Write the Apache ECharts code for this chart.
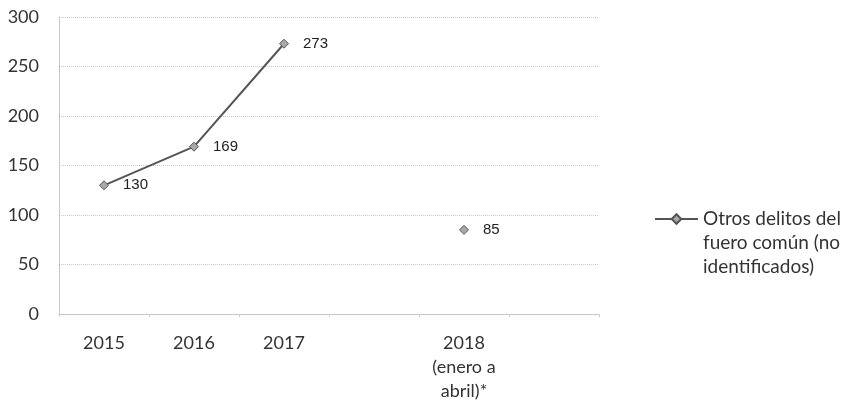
<!DOCTYPE html>
<html>
<head>
<meta charset="utf-8">
<script src="https://cdn.jsdelivr.net/npm/echarts@6/dist/echarts.min.js"></script>
<style>
  html, body { margin: 0; padding: 0; background: #fff; }
  #chart { width: 841px; height: 403px; }
</style>
</head>
<body>
<div id="chart"></div>
<script>
// categorias del eje x (huecos vacios como en el original)
var years = ['2015', '2016', '2017', '', '2018\n(enero a\nabril)*', '']
var seriesName = 'Otros delitos del\nfuero común (no\nidentificados)'
var values = [130, 169, 273, null, 85, null]

var chart = echarts.init(document.getElementById('chart'))
var option = {
  backgroundColor: '#fff',
  animation: false,
  grid: {
    left: 59,
    right: 242,
    top: 17,
    bottom: 87
  },
  legend: {
    left: 649,
    top: 154,
    itemWidth: 43,
    itemHeight: 12,
    itemGap: 2,
    data: [seriesName],
    // dos lineas vacias para que el icono quede a la altura de la primera linea
    formatter: function (name) {
      return '\n\n' + name
    },
    textStyle: {
      fontFamily: 'Lato',
      fontSize: 19,
      color: '#333',
      lineHeight: 24
    }
  },
  xAxis: {
    type: 'category',
    data: years,
    boundaryGap: true,
    axisLine: {
      lineStyle: { color: '#bbb', type: 'dotted' }
    },
    axisTick: {
      show: true,
      length: 3,
      lineStyle: { color: '#ccc' }
    },
    axisLabel: {
      fontFamily: 'Lato',
      fontSize: 18,
      color: '#333',
      lineHeight: 24,
      margin: 17,
      interval: 0
    },
    splitLine: { show: false }
  },
  yAxis: {
    type: 'value',
    min: 0,
    max: 300,
    interval: 50,
    axisLine: {
      show: true,
      lineStyle: { color: '#bbb', type: 'dotted' }
    },
    axisTick: { show: false },
    axisLabel: {
      fontFamily: 'Lato',
      fontSize: 18,
      color: '#333',
      margin: 20
    },
    splitLine: {
      lineStyle: { color: '#c8c8c8', type: 'dotted' }
    }
  },
  series: [
    {
      name: seriesName,
      type: 'line',
      data: values,
      connectNulls: false,
      symbol: 'diamond',
      symbolSize: 9,
      showSymbol: true,
      lineStyle: { color: '#555', width: 2 },
      itemStyle: { color: '#a8a8a8', borderColor: '#555', borderWidth: 1 },
      label: {
        show: true,
        position: 'right',
        distance: 14,
        fontFamily: 'Liberation Sans',
        fontSize: 15,
        color: '#222'
      }
    }
  ]
}
chart.setOption(option)
</script>
</body>
</html>
